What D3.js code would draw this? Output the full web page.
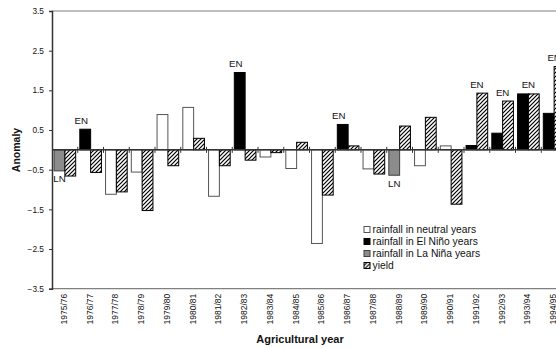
<!DOCTYPE html>
<html>
<head>
<meta charset="utf-8">
<script src="https://cdn.jsdelivr.net/npm/d3@7"></script>
<style>
  html, body { margin: 0; padding: 0; background: #fff; }
  svg { display: block; font-family: "Liberation Sans", Arial, sans-serif; }
</style>
</head>
<body>
<svg id="chart" width="556" height="348"></svg>
<script>
// Agricultural years
const years = ["1975/76","1976/77","1977/78","1978/79","1979/80","1980/81","1981/82","1982/83","1983/84","1984/85",
               "1985/86","1986/87","1987/88","1988/89","1989/90","1990/91","1991/92","1992/93","1993/94","1994/95"];
// Rainfall anomaly per year
const rainfall = [-0.53, 0.52, -1.12, -0.56, 0.89, 1.07, -1.17, 1.95, -0.18, -0.47,
                  -2.36, 0.64, -0.48, -0.64, -0.40, 0.10, 0.11, 0.42, 1.41, 0.92];
// Yield anomaly per year
const yieldAnom = [-0.66, -0.57, -1.06, -1.53, -0.40, 0.29, -0.40, -0.26, -0.07, 0.19,
                   -1.14, 0.10, -0.61, 0.60, 0.82, -1.37, 1.43, 1.23, 1.41, 2.10];
// ENSO phase per year: N = neutral, EN = El Niño, LN = La Niña
const phase = ["LN","EN","N","N","N","N","N","EN","N","N",
               "N","EN","N","LN","N","N","EN","EN","EN","EN"];
// Y axis ticks
const yTicks = [3.5, 2.5, 1.5, 0.5, -0.5, -1.5, -2.5, -3.5];
// Legend entries
const legendLabels = ["rainfall in neutral years", "rainfall in El Niño years", "rainfall in La Niña years", "yield"];
const legendKeys = ["N", "EN", "LN", "Y"];

const svg = d3.select("#chart");

const plotLeft = 52, plotTop = 11, plotBottom = 288.7;
const step = 25.75;
const plotRight = plotLeft + step * years.length;

const x = d3.scaleBand().domain(years).range([plotLeft, plotRight]).padding(0);
const inner = d3.scaleBand().domain(["rain", "yield"]).range([0, x.bandwidth()])
  .paddingInner(0).paddingOuter(0.19);
const y = d3.scaleLinear().domain([-3.5, 3.5]).range([plotBottom, plotTop]);

const fills = { N: "#ffffff", EN: "#000000", LN: "#8c8c8c" };
const strokes = { N: "#555555", EN: "#000000", LN: "#404040" };

// hatch pattern for yield bars
const defs = svg.append("defs");
const pat = defs.append("pattern")
  .attr("id", "hatch").attr("patternUnits", "userSpaceOnUse")
  .attr("width", 4).attr("height", 4);
pat.append("rect").attr("width", 4).attr("height", 4).attr("fill", "#fff");
pat.append("path").attr("d", "M-1,1 L1,-1 M0,4 L4,0 M3,5 L5,3")
  .attr("stroke", "#000").attr("stroke-width", 1.2);

// plot frame (top and bottom borders)
svg.append("line").attr("x1", plotLeft).attr("x2", plotRight).attr("y1", plotTop).attr("y2", plotTop)
  .attr("stroke", "#808080").attr("stroke-width", 1.2);
svg.append("line").attr("x1", plotLeft).attr("x2", plotRight).attr("y1", plotBottom).attr("y2", plotBottom)
  .attr("stroke", "#808080").attr("stroke-width", 1.2);

// rainfall bars
svg.append("g").selectAll("rect").data(years).join("rect")
  .attr("x", (d) => x(d) + inner("rain"))
  .attr("width", inner.bandwidth())
  .attr("y", (d, i) => y(Math.max(0, rainfall[i])))
  .attr("height", (d, i) => Math.abs(y(rainfall[i]) - y(0)))
  .attr("fill", (d, i) => fills[phase[i]])
  .attr("stroke", (d, i) => strokes[phase[i]])
  .attr("stroke-width", 1);

// yield bars
svg.append("g").selectAll("rect").data(years).join("rect")
  .attr("x", (d) => x(d) + inner("yield"))
  .attr("width", inner.bandwidth())
  .attr("y", (d, i) => y(Math.max(0, yieldAnom[i])))
  .attr("height", (d, i) => Math.abs(y(yieldAnom[i]) - y(0)))
  .attr("fill", "url(#hatch)")
  .attr("stroke", "#000")
  .attr("stroke-width", 1);

// left axis
const yAxis = d3.axisLeft(y).tickValues(yTicks).tickSize(3).tickPadding(5)
  .tickFormat(d3.format(".1f"));
const gy = svg.append("g").attr("transform", `translate(${plotLeft},0)`).call(yAxis);
gy.select(".domain").attr("stroke", "#333").attr("stroke-width", 1.5);
gy.selectAll(".tick line").attr("stroke", "#333");
gy.selectAll(".tick text").attr("font-size", 8.3).attr("fill", "#111")
  .attr("font-family", "Liberation Sans, Arial, sans-serif");

// zero line with crossing category ticks
svg.append("line").attr("x1", plotLeft).attr("x2", plotRight).attr("y1", y(0)).attr("y2", y(0))
  .attr("stroke", "#333").attr("stroke-width", 1.5);
svg.append("g").selectAll("line").data(years.slice(1)).join("line")
  .attr("x1", (d) => x(d)).attr("x2", (d) => x(d))
  .attr("y1", y(0) - 3).attr("y2", y(0) + 3)
  .attr("stroke", "#333").attr("stroke-width", 1);

// category labels along the bottom
svg.append("g").selectAll("text").data(years).join("text")
  .attr("transform", (d) => `translate(${x(d) + x.bandwidth() / 2 - 1},${plotBottom + 5}) rotate(-90)`)
  .attr("text-anchor", "end").attr("dy", "0.35em")
  .attr("font-size", 8.5).attr("fill", "#111")
  .text((d) => d);

// ENSO phase labels
svg.append("g").selectAll("text").data(years.filter((d, i) => phase[i] !== "N")).join("text")
  .each(function (d) {
    const i = years.indexOf(d);
    const t = d3.select(this);
    if (phase[i] === "EN") {
      const topV = Math.max(rainfall[i], yieldAnom[i]);
      const cx = yieldAnom[i] >= rainfall[i]
        ? x(d) + x.bandwidth() / 2
        : x(d) + inner("rain") + inner.bandwidth() / 2 - 4;
      t.attr("x", cx).attr("y", y(topV) - 5.5);
    } else {
      t.attr("x", x(d) + inner("rain") + inner.bandwidth() / 2).attr("y", y(rainfall[i]) + 11.5);
    }
  })
  .attr("text-anchor", "middle").attr("font-size", 9.7).attr("fill", "#111")
  .text((d) => phase[years.indexOf(d)]);

// axis titles
svg.append("text").attr("transform", `translate(20,150) rotate(-90)`)
  .attr("text-anchor", "middle").attr("font-size", 10.5).attr("font-weight", "bold")
  .attr("fill", "#111").text("Anomaly");
svg.append("text").attr("x", 300).attr("y", 343)
  .attr("text-anchor", "middle").attr("font-size", 11).attr("font-weight", "bold")
  .attr("fill", "#111").text("Agricultural year");

// legend
const lg = svg.append("g").attr("transform", "translate(364,229.5)");
const rows = lg.selectAll("g").data(legendKeys).join("g")
  .attr("transform", (d, i) => `translate(0,${i * 12})`);
rows.append("rect").attr("x", 0).attr("y", -3).attr("width", 6).attr("height", 6)
  .attr("fill", (d) => d === "Y" ? "url(#hatch)" : fills[d])
  .attr("stroke", (d) => d === "Y" ? "#000" : strokes[d]).attr("stroke-width", 1);
rows.append("text").attr("x", 8.5).attr("dy", "0.35em")
  .attr("font-size", 10.3).attr("fill", "#111")
  .text((d, i) => legendLabels[i]);
</script>
</body>
</html>
